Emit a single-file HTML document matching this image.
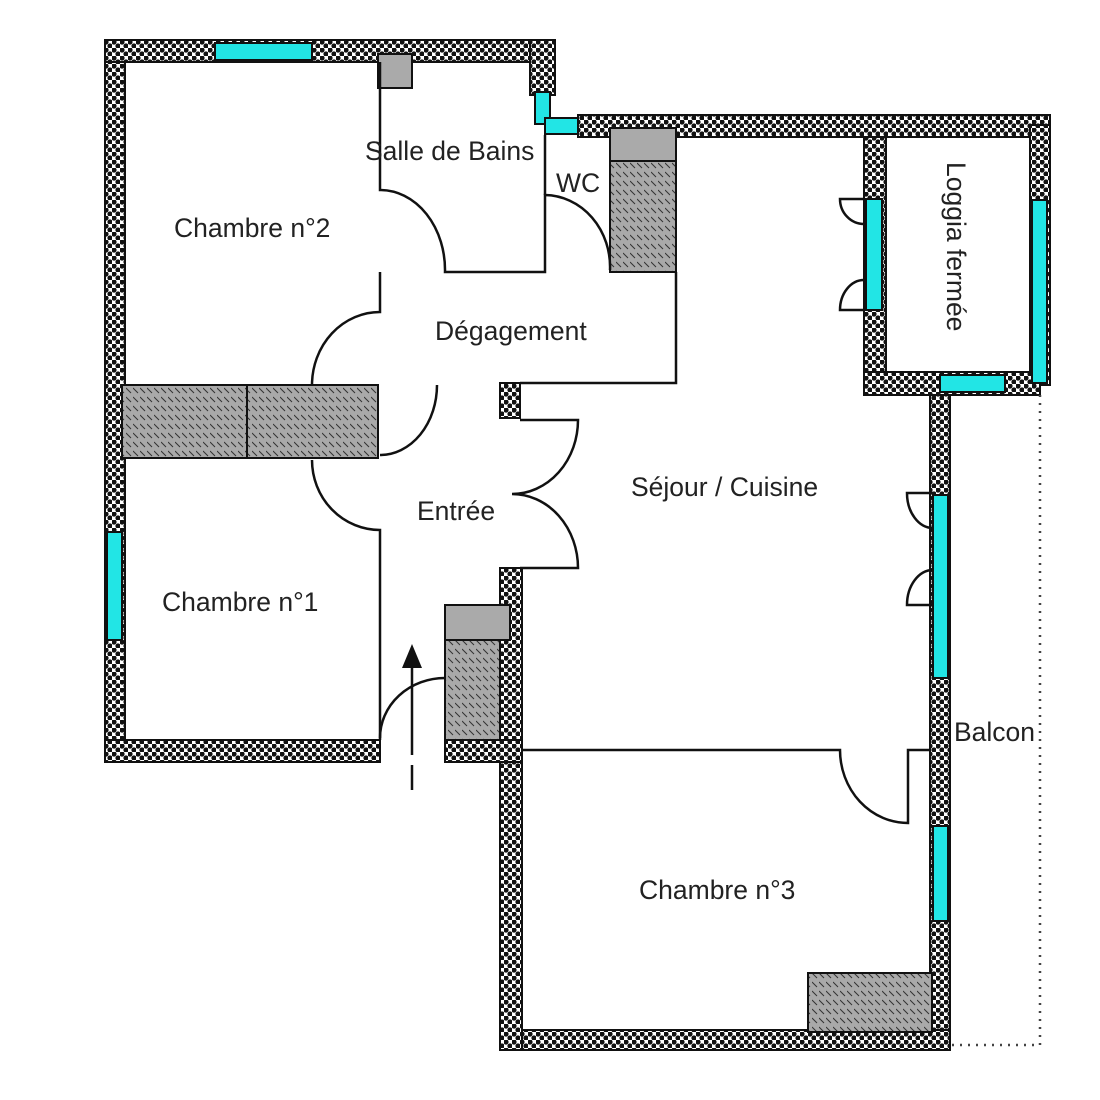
<!DOCTYPE html>
<html><head><meta charset="utf-8"><style>
html,body{margin:0;padding:0;background:#fff;width:1100px;height:1100px;overflow:hidden}
svg{display:block}
text{font-family:"Liberation Sans",sans-serif;fill:#222;font-size:26.5px}
</style></head><body>
<svg width="1100" height="1100" viewBox="0 0 1100 1100" xmlns="http://www.w3.org/2000/svg">
<defs>
<pattern id="w" width="8" height="8" patternUnits="userSpaceOnUse">
<rect width="8" height="8" fill="#fff"/>
<circle cx="2" cy="2" r="2.6" fill="#111"/>
<circle cx="6" cy="6" r="2.6" fill="#111"/>
</pattern>
<pattern id="h" width="7" height="9" patternUnits="userSpaceOnUse">
<rect width="7" height="9" fill="#a9a9a9"/>
<line x1="0" y1="1" x2="5" y2="6" stroke="#333" stroke-width="1"/>
</pattern>
</defs>
<g stroke="#111" stroke-width="2" fill="url(#w)">
<rect x="105" y="40" width="20" height="720"/>
<rect x="105" y="40" width="440" height="22"/>
<rect x="530" y="40" width="25" height="55"/>
<rect x="578" y="115" width="472" height="22"/>
<rect x="864" y="137" width="22" height="258"/>
<rect x="1030" y="125" width="20" height="260"/>
<rect x="864" y="372" width="176" height="23"/>
<rect x="930" y="395" width="20" height="650"/>
<rect x="500" y="1030" width="450" height="20"/>
<rect x="500" y="568" width="22" height="482"/>
<rect x="500" y="383" width="20" height="35"/>
<rect x="105" y="740" width="275" height="22"/>
<rect x="445" y="740" width="77" height="22"/>
</g>
<g stroke="#111" stroke-width="2" fill="#22e5e5">
<rect x="215" y="43" width="97" height="17"/>
<rect x="107" y="532" width="15" height="108"/>
<rect x="535" y="92" width="15" height="32"/>
<rect x="545" y="118" width="33" height="16"/>
<rect x="866" y="199" width="16" height="111"/>
<rect x="1032" y="200" width="15" height="183"/>
<rect x="940" y="375" width="65" height="17"/>
<rect x="933" y="495" width="15" height="183"/>
<rect x="933" y="826" width="15" height="95"/>
</g>
<g stroke="#111" stroke-width="2">
<rect x="378" y="54" width="34" height="34" fill="#aaa"/>
<rect x="610" y="128" width="66" height="33" fill="#aaa"/>
<rect x="610" y="161" width="66" height="111" fill="url(#h)"/>
<rect x="122" y="385" width="125" height="73" fill="url(#h)"/>
<rect x="247" y="385" width="131" height="73" fill="url(#h)"/>
<rect x="445" y="605" width="65" height="35" fill="#aaa"/>
<rect x="445" y="640" width="55" height="100" fill="url(#h)"/>
<rect x="808" y="973" width="124" height="59" fill="url(#h)"/>
</g>
<g stroke="#111" stroke-width="2.5" fill="none">
<path d="M380 62 V190 A65 80 0 0 1 445 272 H545 V195 A66 72 0 0 1 610 270"/>
<path d="M545 135 V195"/>
<path d="M380 272 V312 A68 73 0 0 0 312 385"/>
<path d="M676 272 V383 H520"/>
<path d="M437 385 A57 70 0 0 1 380 455"/>
<path d="M312 460 A68 70 0 0 0 380 530 V740"/>
<path d="M380 738 A65 60 0 0 1 445 678"/>
<path d="M520 420 H578 A66 74 0 0 1 512 494 A66 74 0 0 1 578 568 H520"/>
<path d="M522 750 H840 A68 73 0 0 0 908 823 V750 H930"/>
<path d="M933 493 H907 A26 35 0 0 0 933 528"/>
<path d="M933 605 H907 A26 35 0 0 1 933 570"/>
<path d="M864 199 H840 A24 25 0 0 0 864 224"/>
<path d="M864 310 H840 A24 30 0 0 1 864 280"/>
<path d="M412 668 V755 M412 765 V790"/>
</g>
<polygon points="412,644 402,668 422,668" fill="#111"/>
<path d="M1040 395 V1045 H950" stroke="#444" stroke-width="2.5" stroke-dasharray="2 6" fill="none"/>
<text x="174" y="237">Chambre n°2</text>
<text x="365" y="160">Salle de Bains</text>
<text x="556" y="192">WC</text>
<text x="435" y="340">Dégagement</text>
<text x="417" y="520">Entrée</text>
<text x="631" y="496">Séjour / Cuisine</text>
<text x="162" y="611">Chambre n°1</text>
<text x="639" y="899">Chambre n°3</text>
<text x="954" y="741">Balcon</text>
<text transform="translate(947,162) rotate(90)">Loggia fermée</text>
</svg>
</body></html>
